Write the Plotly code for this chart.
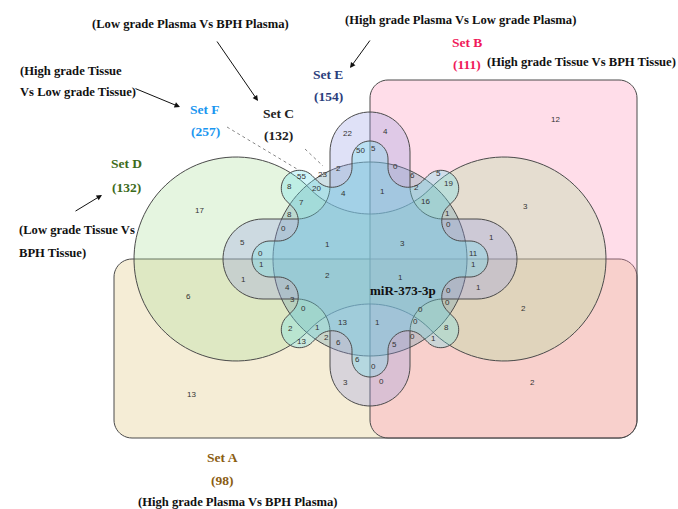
import numpy as np
import plotly.graph_objects as go

W, H = 678, 509

# ---- data -------------------------------------------------------------
set_names = ["Set A", "Set B", "Set C", "Set D", "Set E", "Set F"]
set_sizes = [98, 111, 132, 132, 154, 257]
set_desc = [
    ["(High grade Plasma Vs BPH Plasma)"],
    ["(High grade Tissue Vs BPH Tissue)"],
    ["(Low grade Plasma Vs BPH Plasma)"],
    ["(Low grade Tissue Vs", "BPH Tissue)"],
    ["(High grade Plasma Vs Low grade Plasma)"],
    ["(High grade Tissue", "Vs Low grade Tissue)"],
]
common_mirna = "miR-373-3p"

# counts of the 63 intersection regions
region_counts = [
    22, 4, 50, 5, 2, 0, 6, 5, 55, 23, 8, 20, 4, 1, 2, 19, 7, 16, 8, 1, 0, 0,
    1, 3, 5, 0, 1, 1, 2, 11, 1, 1, 1, 1, 4, 3, 0, 0, 0, 0, 2, 1, 13, 1, 0, 8,
    13, 2, 6, 0, 1, 5, 6, 0, 3, 0, 12, 3, 2, 2, 17, 6, 13,
]

# ---- layout (pixel space, y downwards) --------------------------------
region_pos = [
    (347, 133), (385, 131), (360, 150), (373, 148), (338, 168), (395, 166),
    (412, 175), (438, 173), (301, 176), (322, 174), (289, 186), (316, 188),
    (343, 193), (382, 191), (416, 187), (448, 183), (301, 202), (425, 201),
    (289, 214), (447, 213), (283, 228), (448, 224), (327, 244), (402, 243),
    (242, 242), (260, 253), (261, 264), (243, 279), (327, 275), (473, 253),
    (473, 264), (491, 237), (478, 287), (400, 277), (287, 287), (292, 299),
    (303, 308), (448, 290), (447, 302), (420, 309), (290, 328), (317, 327),
    (342, 322), (377, 322), (415, 321), (446, 327), (301, 341), (326, 337),
    (338, 342), (412, 336), (433, 338), (394, 344), (357, 359), (373, 366),
    (345, 382), (381, 381), (555, 119), (525, 206), (523, 308), (532, 382),
    (199, 210), (188, 296), (191, 394),
]

CX, CY = 370.0, 259.0
set_colors = ["#8a5d12", "#f0195a", "#222222", "#3d6b1b", "#2b3e7c", "#1a96f0"]
fills = {
    "A": "rgba(222,195,118,0.30)",
    "B": "rgba(255,142,182,0.30)",
    "C": "rgba(110,160,175,0.33)",
    "D": "rgba(168,222,152,0.30)",
    "E": "rgba(148,155,228,0.30)",
    "F": "rgba(110,225,235,0.32)",
}
EDGE = "#4a4a4a"


def to_path(pts):
    pts = np.asarray(pts)
    s = "M %.2f,%.2f " % tuple(pts[0])
    s += " ".join("L %.2f,%.2f" % (x, y) for x, y in pts[1:])
    return s + " Z"


def arc(cx, cy, r, a0, a1, n=40):
    a = np.linspace(a0, a1, n)
    return np.column_stack([cx + r * np.cos(a), cy + r * np.sin(a)])


def rounded_rect(x0, y0, x1, y1, r):
    parts = [
        arc(x1 - r, y0 + r, r, -np.pi / 2, 0, 12),
        arc(x1 - r, y1 - r, r, 0, np.pi / 2, 12),
        arc(x0 + r, y1 - r, r, np.pi / 2, np.pi, 12),
        arc(x0 + r, y0 + r, r, np.pi, 1.5 * np.pi, 12),
    ]
    return np.vstack(parts)


def gear(cx, cy, n, theta0, L, w, f):
    """Closed outline of n round-ended lobes joined by concave fillets."""
    dth = 2 * np.pi / n
    th = [theta0 + k * dth for k in range(n)]
    v = lambda t: np.array([-np.sin(t), np.cos(t)])
    u = lambda t: np.array([np.cos(t), np.sin(t)])
    pts = []
    for k in range(n):
        tp = th[k] - dth
        tk = th[k]
        A = np.array([v(tp), -v(tk)])
        c = np.linalg.solve(A, np.array([w + f, w + f]))
        pts.append(arc(cx + c[0], cy + c[1], f, tp - np.pi / 2, tk - 1.5 * np.pi, 24))
        tc = np.array([cx, cy]) + (L - w) * u(tk)
        pts.append(arc(tc[0], tc[1], w, tk - np.pi / 2, tk + np.pi / 2, 30))
    return np.vstack(pts)


def dumbbell(cx, cy, off, r, gap):
    """Two discs joined by a waist bounded by two tangent concave arcs."""
    R = ((off ** 2 + gap ** 2) - r ** 2) / (2 * (r - gap))
    lx, rx = cx - off, cx + off
    top_c = np.array([cx, cy - gap - R])
    bot_c = np.array([cx, cy + gap + R])
    d = top_c - np.array([lx, cy])
    a = np.arctan2(d[1], d[0])            # tangent angle on left disc (upper)
    b = np.arctan2(-d[1], -d[0])          # same point seen from the waist arc
    pts = [
        arc(lx, cy, r, a, -2 * np.pi - a, 80),
        arc(bot_c[0], bot_c[1], R, -b, -np.pi + b, 40),
        arc(rx, cy, r, np.pi + a, -np.pi - a, 80),
        arc(top_c[0], top_c[1], R, np.pi - b, b, 40),
    ]
    return np.vstack(pts)


outlines = [
    ("A", rounded_rect(114, CY, 637, 438, 18)),
    ("B", rounded_rect(CX, 80, 637, 438, 18)),
    ("D", dumbbell(CX, CY, 134, 102, 45)),
    ("C", arc(CX, CY, 97, 0, 2 * np.pi, 120)),
    ("E", gear(CX, CY, 4, 0.0, 147, 40, 33)),
    ("F", gear(CX, CY, 8, 0.0, 118, 18, 20)),
]

fig = go.Figure()
fig.add_trace(go.Scatter(x=[0, W], y=[0, H], mode="markers",
                         marker=dict(opacity=0), hoverinfo="skip", showlegend=False))

shapes = []
for key, pts in outlines:
    shapes.append(dict(type="path", path=to_path(pts), xref="x", yref="y",
                       fillcolor=fills[key], line=dict(color=EDGE, width=1),
                       layer="below"))

# pointer lines from labels
shapes.append(dict(type="line", x0=227, y0=127, x1=297, y1=169, xref="x", yref="y",
                   line=dict(color="#888888", width=1, dash="dot")))
shapes.append(dict(type="line", x0=305, y0=149, x1=323, y1=166, xref="x", yref="y",
                   line=dict(color="#888888", width=1, dash="dot")))

ann = []
for (x, y), n in zip(region_pos, region_counts):
    ann.append(dict(x=x, y=y, text=str(n), showarrow=False,
                    font=dict(family="Liberation Sans, Arial", size=8, color="#333333")))

SERIF = "Liberation Serif, Times New Roman, serif"


def txt(x, y, s, color="#111111", size=13, anchor="center"):
    ann.append(dict(x=x, y=y, text="<b>%s</b>" % s, showarrow=False,
                    xanchor=anchor, yanchor="middle",
                    font=dict(family=SERIF, size=size, color=color)))


def arrow(x0, y0, x1, y1):
    ann.append(dict(x=x1, y=y1, ax=x0, ay=y0, xref="x", yref="y", axref="x", ayref="y",
                    text="", showarrow=True, arrowhead=2, arrowsize=1.1,
                    arrowwidth=1, arrowcolor="#111111"))


# set name / size labels
label_pos = {
    0: (222, 457, 480),
    1: (467, 42, 64),
    2: (278, 113, 135),
    3: (126, 163, 187),
    4: (328, 74, 96),
    5: (205, 109, 131),
}
for i, (x, y1, y2) in label_pos.items():
    txt(x, y1, set_names[i], set_colors[i], size=13.5)
    txt(x, y2, "(%d)" % set_sizes[i], set_colors[i], size=13.5)

# comparison descriptions
DS = 12.6
txt(238, 502, set_desc[0][0], size=DS)
txt(581, 62, set_desc[1][0], size=DS)
txt(190, 24, set_desc[2][0], size=DS)
txt(17, 230, set_desc[3][0], size=DS, anchor="left")
txt(17, 253, set_desc[3][1], size=DS, anchor="left")
txt(460, 20, set_desc[4][0], size=DS)
txt(18, 71, set_desc[5][0], size=DS, anchor="left")
txt(18, 92, set_desc[5][1], size=DS, anchor="left")

txt(403, 290, common_mirna, size=13)

arrow(216, 40, 258, 101)
arrow(134, 88, 180, 107)
arrow(74, 212, 102, 195)
arrow(371, 39, 350, 68)

fig.update_layout(
    width=W, height=H, margin=dict(l=0, r=0, t=0, b=0),
    paper_bgcolor="white", plot_bgcolor="white",
    xaxis=dict(range=[0, W], visible=False, fixedrange=True),
    yaxis=dict(range=[H, 0], visible=False, fixedrange=True),
    shapes=shapes, annotations=ann, showlegend=False,
)
fig.write_html("out.html")
